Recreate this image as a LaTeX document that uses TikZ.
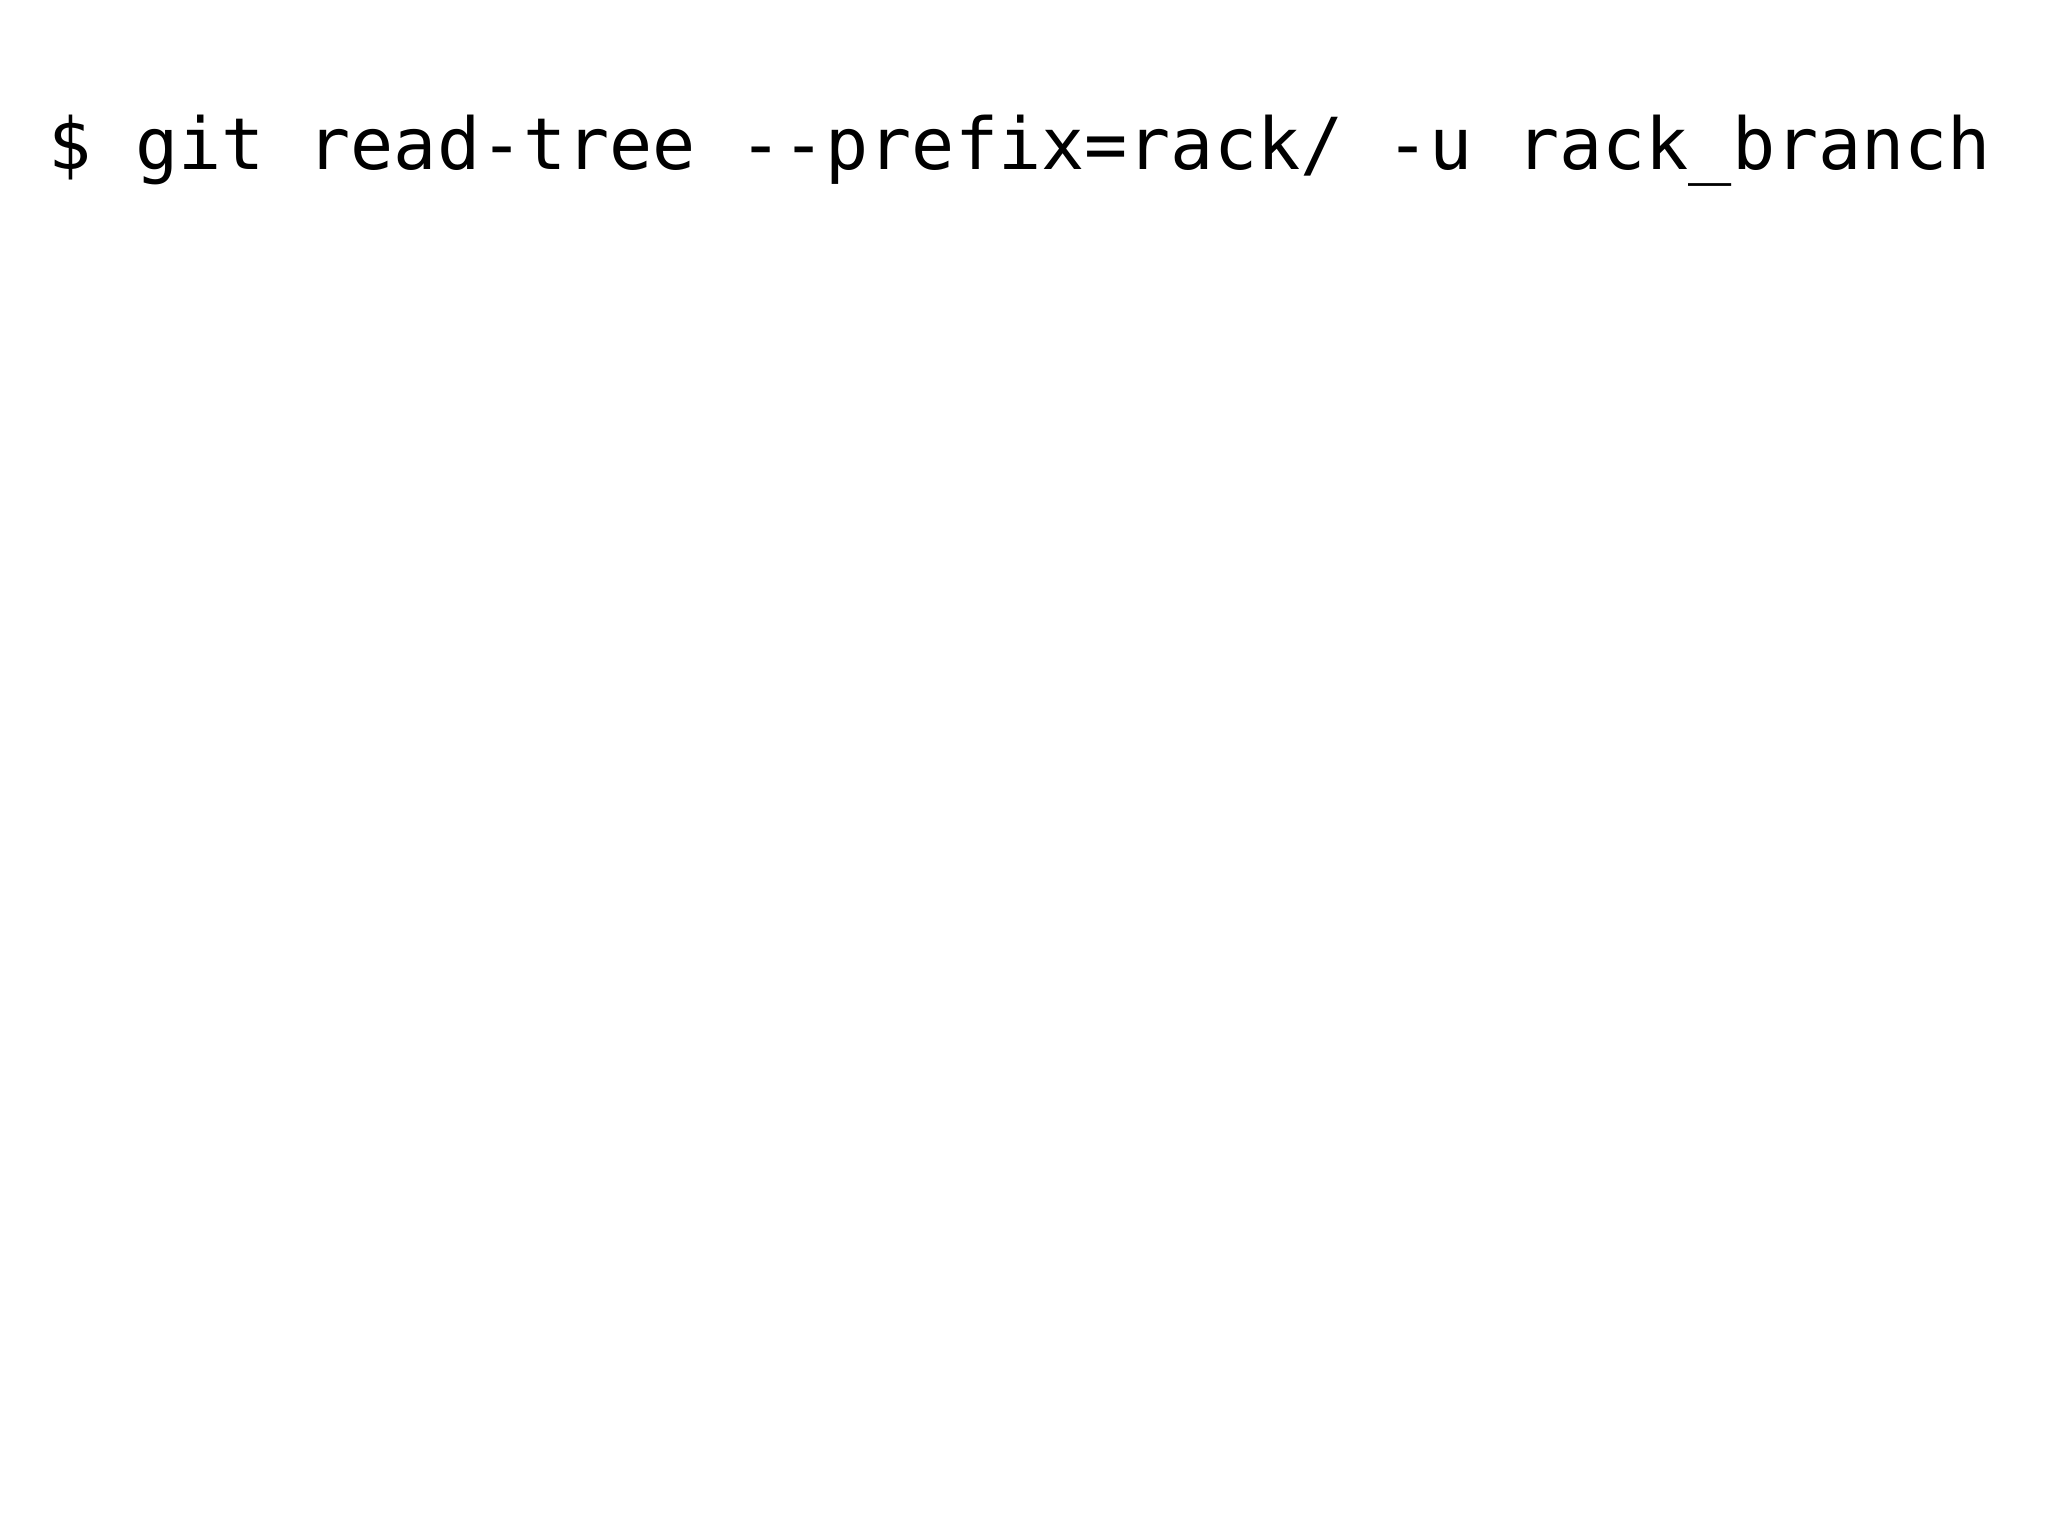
\documentclass[tikz,border=0pt]{standalone}
\usepackage{fontspec}
\newfontfamily\cmdfont{DejaVu Sans Mono}
\begin{document}
\begin{tikzpicture}[x=1cm,y=1cm]
\tikzset{cmdtext/.style={anchor=base west, inner sep=0pt, font=\fontsize{20.4}{24}\selectfont\cmdfont, text=black}}
\fill[white] (0,0) rectangle (20.48,15.36);
\useasboundingbox (0,0) rectangle (20.48,15.36);
\node[cmdtext] (cmd) at (0.48,13.66) {\$ git read-tree {-}{-}prefix=rack/ {-}u rack\_branch};
\end{tikzpicture}
\end{document}
